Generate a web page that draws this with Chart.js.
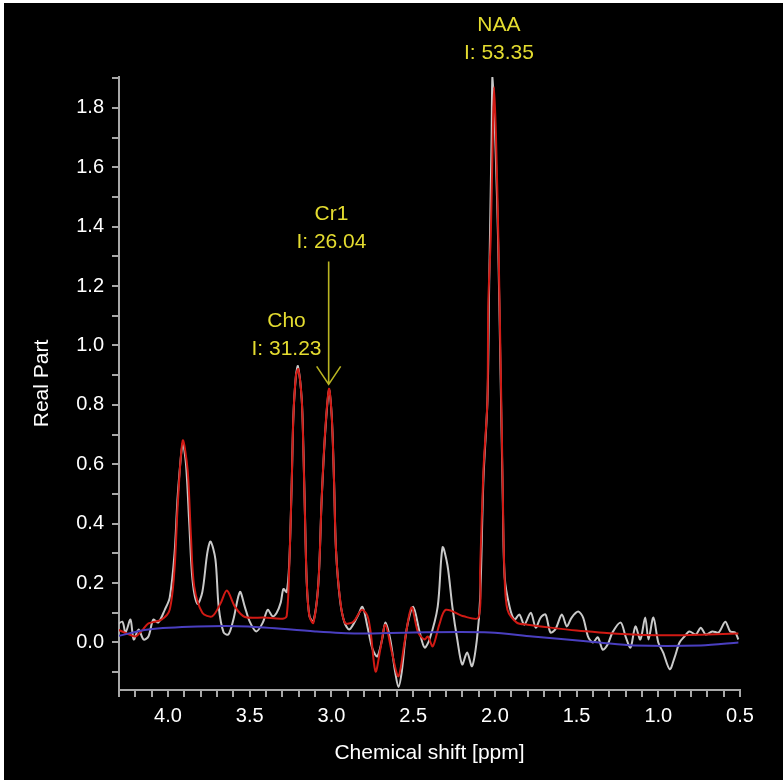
<!DOCTYPE html>
<html>
<head>
<meta charset="utf-8">
<script src="https://cdn.jsdelivr.net/npm/chart.js@4"></script>
<style>
  body { margin: 0; background: #fff; }
  #spec { display: block; margin: 3px 0 0 4px; background: #000; }
</style>
</head>
<body>
<canvas id="spec" width="779" height="777"></canvas>
<script>
// raw spectrum (grey)
const rawPpm = [4.32,4.28,4.26,4.23,4.21,4.18,4.15,4.12,4.09,4.06,4.02,3.99,3.96,3.94,3.91,3.89,3.87,3.85,3.82,3.79,3.76,3.74,3.71,3.69,3.66,3.63,3.60,3.56,3.53,3.50,3.46,3.42,3.39,3.36,3.335,3.31,3.294,3.274,3.258,3.243,3.233,3.217,3.205,3.182,3.172,3.162,3.151,3.135,3.111,3.08,3.06,3.039,3.015,2.998,2.984,2.972,2.947,2.92,2.89,2.84,2.81,2.78,2.75,2.72,2.69,2.67,2.64,2.61,2.59,2.57,2.54,2.50,2.46,2.43,2.40,2.35,2.32,2.29,2.26,2.23,2.20,2.17,2.14,2.11,2.09,2.07,2.045,2.035,2.02,2.015,2.005,1.995,1.98,1.965,1.952,1.94,1.91,1.88,1.85,1.82,1.78,1.75,1.72,1.69,1.66,1.63,1.59,1.56,1.53,1.49,1.46,1.43,1.40,1.37,1.34,1.31,1.28,1.23,1.20,1.17,1.14,1.11,1.08,1.06,1.03,1.00,0.97,0.93,0.90,0.87,0.84,0.81,0.77,0.74,0.71,0.67,0.63,0.59,0.56,0.53,0.51];
const rawVal = [0.054,0.07,0.034,0.077,0.01,0.044,0.01,0.02,0.077,0.067,0.11,0.15,0.30,0.50,0.67,0.60,0.40,0.21,0.13,0.17,0.30,0.34,0.28,0.12,0.034,0.027,0.077,0.17,0.12,0.07,0.037,0.067,0.11,0.088,0.10,0.135,0.18,0.17,0.27,0.54,0.76,0.90,0.93,0.82,0.66,0.43,0.20,0.09,0.07,0.20,0.48,0.70,0.85,0.76,0.54,0.31,0.14,0.067,0.044,0.088,0.12,0.054,-0.02,-0.047,0.01,0.067,0.01,-0.10,-0.15,-0.10,0.044,0.12,0.034,-0.017,0.01,0.12,0.32,0.26,0.12,0.01,-0.074,-0.034,-0.08,0.01,0.15,0.55,0.82,1.20,1.70,1.905,1.80,1.65,1.35,0.90,0.50,0.22,0.12,0.077,0.094,0.06,0.10,0.05,0.084,0.094,0.034,0.044,0.094,0.054,0.084,0.104,0.084,0.02,0.0,0.017,-0.024,-0.007,0.034,0.067,0.02,-0.017,0.054,0.01,0.084,0.01,0.084,0.0,-0.034,-0.09,-0.05,0.0,0.02,0.037,0.027,0.05,0.027,0.037,0.034,0.07,0.037,0.034,0.01];

// fitted spectrum (red)
const fitPpm = [4.31,4.25,4.20,4.16,4.12,4.04,3.99,3.96,3.94,3.91,3.88,3.86,3.84,3.79,3.73,3.68,3.64,3.59,3.53,3.41,3.30,3.274,3.258,3.243,3.233,3.217,3.203,3.182,3.172,3.162,3.151,3.135,3.111,3.08,3.06,3.039,3.015,2.998,2.984,2.972,2.947,2.917,2.866,2.815,2.78,2.76,2.73,2.70,2.67,2.63,2.59,2.55,2.51,2.47,2.43,2.41,2.38,2.34,2.30,2.19,2.10,2.09,2.07,2.046,2.04,2.025,2.013,2.005,1.993,1.979,1.964,1.952,1.942,1.923,1.866,1.80,1.66,1.50,1.36,1.15,0.90,0.70,0.51];
const fitVal = [0.044,0.030,0.020,0.040,0.064,0.077,0.11,0.25,0.47,0.68,0.58,0.36,0.19,0.10,0.088,0.13,0.175,0.12,0.086,0.084,0.08,0.089,0.257,0.54,0.76,0.90,0.92,0.82,0.65,0.425,0.20,0.089,0.066,0.20,0.48,0.706,0.854,0.76,0.54,0.31,0.145,0.066,0.07,0.11,0.09,0.034,-0.098,-0.02,0.06,-0.034,-0.114,0.01,0.118,0.034,0.01,0.02,-0.013,0.06,0.11,0.088,0.084,0.245,0.58,0.81,1.145,1.37,1.70,1.87,1.70,1.37,0.92,0.525,0.245,0.11,0.067,0.06,0.05,0.04,0.034,0.027,0.024,0.027,0.03];

// baseline (blue)
const basePpm = [4.32,4.12,3.82,3.51,3.10,2.84,2.50,2.03,1.77,1.56,1.36,1.15,0.74,0.51];
const baseVal = [0.02,0.044,0.054,0.054,0.037,0.03,0.034,0.034,0.02,0.01,0.0,-0.01,-0.01,0.0];

// peak annotations
const peakNames = ['NAA', 'Cr1', 'Cho'];
const peakInts = ['53.35', '26.04', '31.23'];

function pts(xs, ys) { return xs.map((x, i) => ({x: x, y: ys[i]})); }

const FONT = '"Liberation Sans", Arial, Helvetica, sans-serif';
const AXIS_COL = '#a8a8a8';
const YEL = '#e4dc30';

// label anchors (ppm, value) for the peak texts
const labelPos = [[1.975, 2.079], [3.0, 1.441], [3.275, 1.081]];

const annot = {
  id: 'annot',
  afterDraw(chart) {
    const c = chart.ctx, xs = chart.scales.x, ys = chart.scales.y;
    c.save();
    c.font = '21px ' + FONT;
    c.fillStyle = YEL;
    c.textAlign = 'center';
    c.textBaseline = 'middle';
    peakNames.forEach((n, i) => {
      const px = xs.getPixelForValue(labelPos[i][0]);
      const py = ys.getPixelForValue(labelPos[i][1]);
      c.fillText(n, px, py);
      c.fillText('I: ' + peakInts[i], px, py + 28);
    });
    // arrow to Cr1 peak
    const ax = xs.getPixelForValue(3.017);
    const a0 = ys.getPixelForValue(1.283);
    const a1 = ys.getPixelForValue(0.869);
    c.strokeStyle = '#b9b422';
    c.lineWidth = 1.6;
    c.beginPath();
    c.moveTo(ax, a0); c.lineTo(ax, a1);
    c.moveTo(ax - 12, a1 - 18); c.lineTo(ax, a1); c.lineTo(ax + 12, a1 - 18);
    c.stroke();
    c.restore();
  }
};

new Chart(document.getElementById('spec'), {
  type: 'line',
  data: {
    datasets: [
      { data: pts(rawPpm, rawVal), borderColor: '#c9c9c9', borderWidth: 2, pointRadius: 0, tension: 0.3, order: 3 },
      { data: pts(fitPpm, fitVal), borderColor: '#d11a14', borderWidth: 2, pointRadius: 0, tension: 0.3, order: 2 },
      { data: pts(basePpm, baseVal), borderColor: '#4a3fc0', borderWidth: 2, pointRadius: 0, tension: 0.3, order: 1 }
    ]
  },
  options: {
    responsive: false,
    animation: false,
    layout: { padding: { top: 74, right: 43, left: 0, bottom: 0 } },
    plugins: { legend: { display: false }, tooltip: { enabled: false } },
    scales: {
      x: {
        type: 'linear', reverse: true, min: 0.5, max: 4.3,
        afterFit: s => { s.height = 90; },
        afterBuildTicks: s => {
          s.ticks = [];
          for (let k = 5; k <= 43; k++) s.ticks.push({value: k / 10});
        },
        ticks: {
          color: '#fff', font: { family: FONT, size: 20 }, padding: 7, maxRotation: 0, autoSkip: false,
          callback: v => (Math.round(v * 10) % 5 === 0 ? v.toFixed(1) : '')
        },
        grid: { drawOnChartArea: false, color: AXIS_COL, tickLength: 7, lineWidth: 2 },
        border: { color: AXIS_COL, width: 2 },
        title: { display: true, text: 'Chemical shift [ppm]', color: '#fff', font: { family: FONT, size: 21 }, padding: { top: 0, bottom: 14 } }
      },
      y: {
        type: 'linear', min: -0.16, max: 1.904,
        afterFit: s => { s.width = 115; },
        afterBuildTicks: s => {
          s.ticks = [];
          for (let k = -1; k <= 19; k++) s.ticks.push({value: k / 10});
        },
        ticks: {
          color: '#fff', font: { family: FONT, size: 20 }, padding: 8, autoSkip: false,
          callback: v => (Math.round(v * 10) % 2 === 0 ? v.toFixed(1) : '')
        },
        grid: { drawOnChartArea: false, color: AXIS_COL, tickLength: 7, lineWidth: 2 },
        border: { color: AXIS_COL, width: 2 },
        title: { display: true, text: 'Real Part', color: '#fff', font: { family: FONT, size: 21 }, padding: { top: 26, bottom: 0 } }
      }
    }
  },
  plugins: [annot]
});
</script>
</body>
</html>
